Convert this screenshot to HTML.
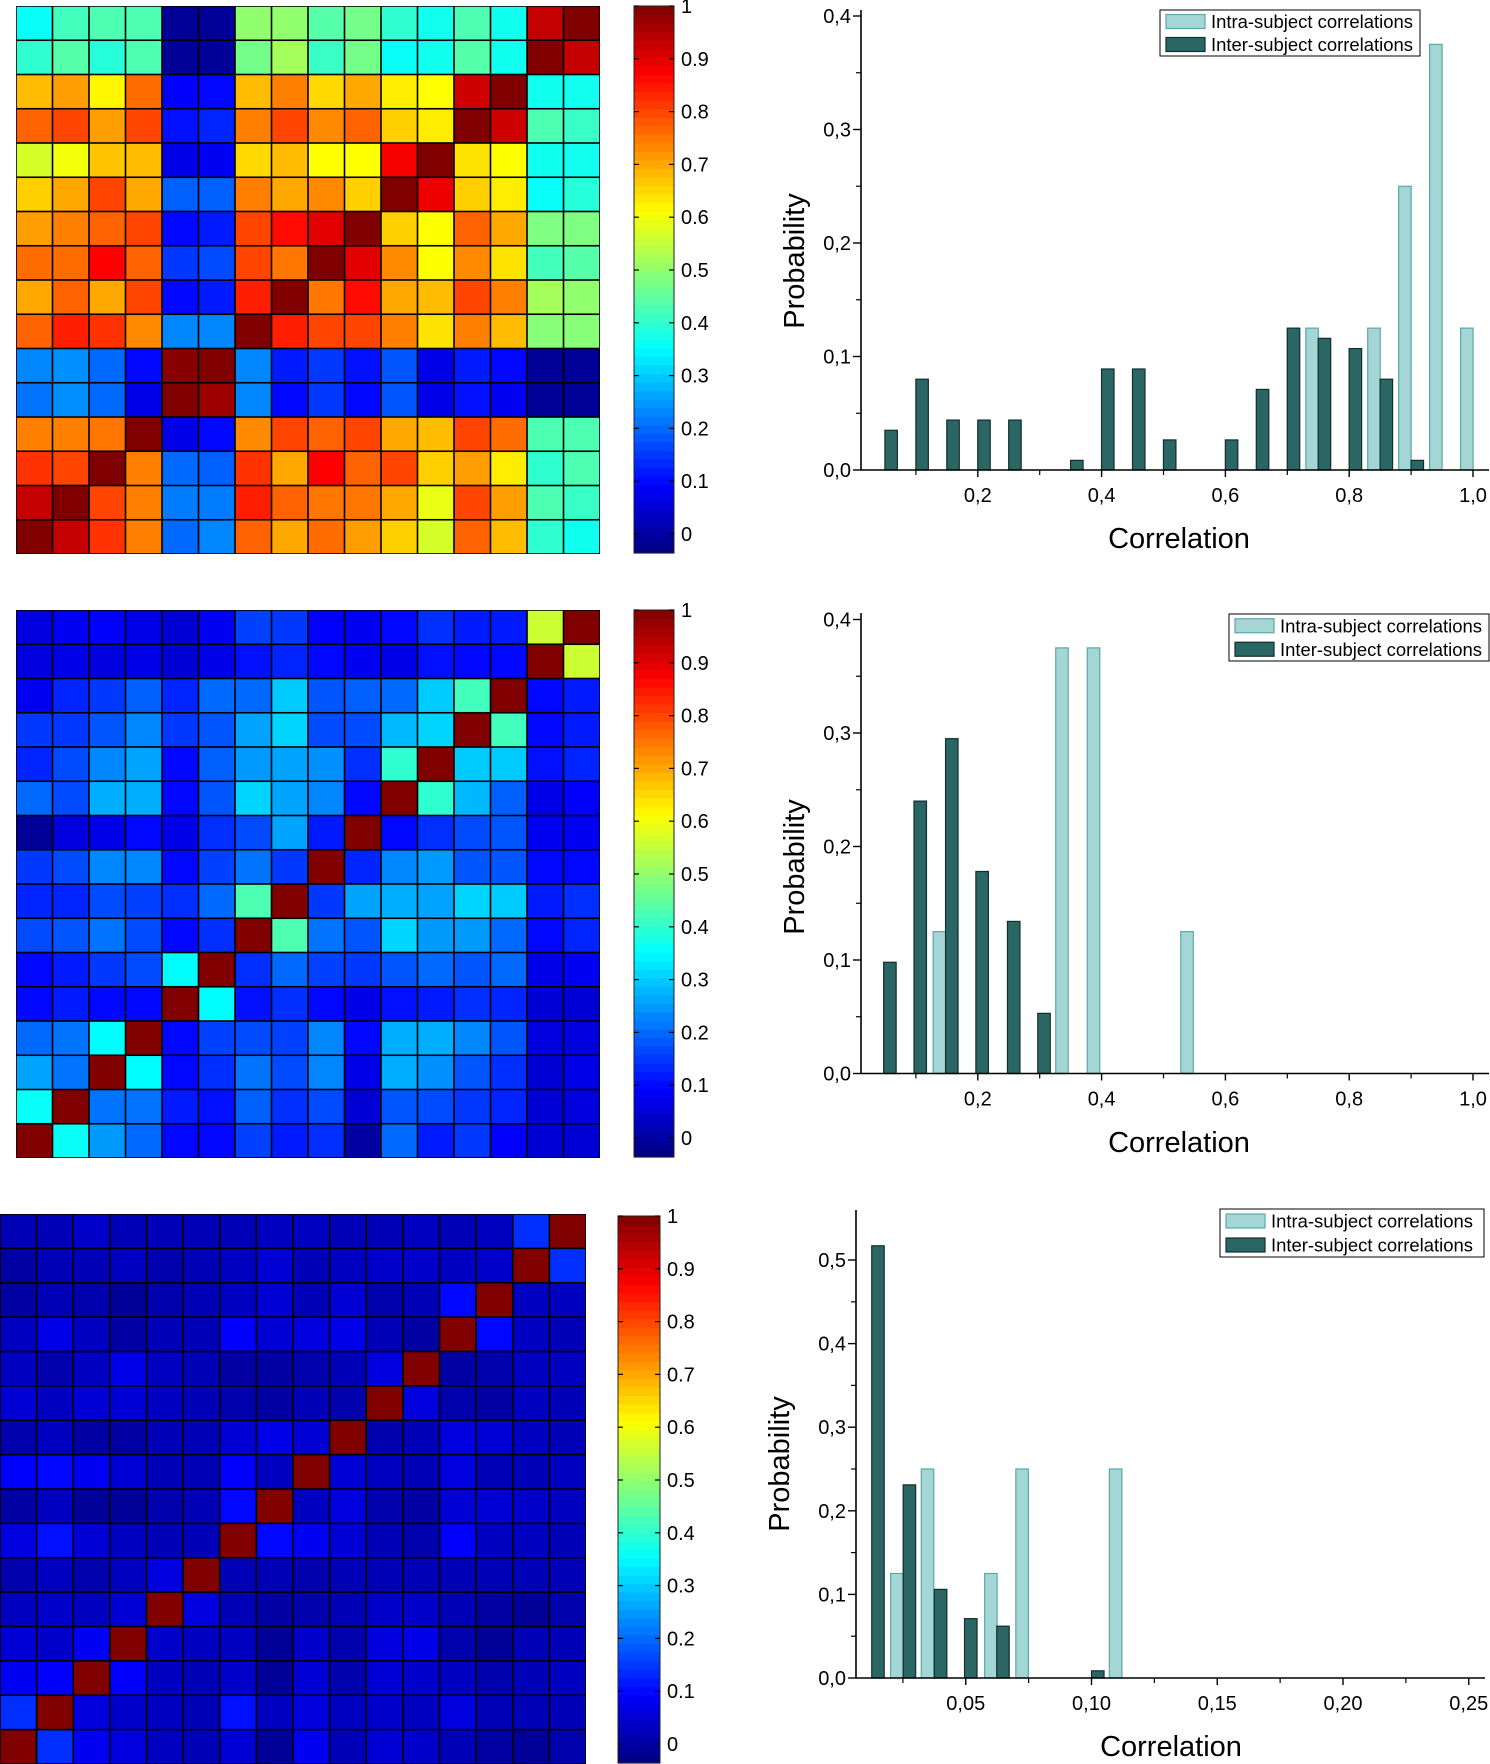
<!DOCTYPE html>
<html><head><meta charset="utf-8"><style>
html,body{margin:0;padding:0;background:#fff;}
svg{display:block;font-family:"Liberation Sans",sans-serif;}
</style></head><body>
<svg id="fig" width="1490" height="1764" viewBox="0 0 1490 1764" xmlns="http://www.w3.org/2000/svg"></svg>
<script>
const heat1 = [
[0.36,0.42,0.43,0.43,-0.01,-0.01,0.5,0.5,0.44,0.47,0.4,0.37,0.43,0.37,0.93,1],
[0.4,0.44,0.39,0.43,-0.01,-0.01,0.47,0.52,0.41,0.47,0.36,0.37,0.44,0.37,1,0.93],
[0.68,0.71,0.62,0.76,0.09,0.1,0.68,0.74,0.65,0.7,0.63,0.61,0.92,1,0.37,0.37],
[0.77,0.8,0.71,0.8,0.11,0.13,0.74,0.8,0.73,0.77,0.66,0.63,1,0.92,0.43,0.41],
[0.57,0.6,0.67,0.68,0.07,0.08,0.65,0.68,0.61,0.61,0.88,1,0.64,0.61,0.37,0.37],
[0.66,0.7,0.8,0.7,0.19,0.19,0.74,0.7,0.73,0.66,1,0.89,0.66,0.63,0.36,0.39],
[0.71,0.74,0.77,0.8,0.1,0.12,0.8,0.86,0.9,1,0.66,0.61,0.77,0.7,0.48,0.48],
[0.76,0.76,0.87,0.77,0.15,0.17,0.8,0.75,1,0.9,0.73,0.61,0.73,0.64,0.42,0.44],
[0.7,0.77,0.7,0.8,0.1,0.12,0.84,1,0.75,0.86,0.7,0.68,0.8,0.74,0.52,0.5],
[0.77,0.84,0.82,0.73,0.23,0.23,1,0.84,0.8,0.8,0.74,0.64,0.74,0.68,0.49,0.49],
[0.23,0.24,0.2,0.1,0.99,1,0.23,0.12,0.15,0.11,0.18,0.07,0.12,0.1,-0.01,-0.01],
[0.21,0.24,0.2,0.07,1,0.97,0.23,0.1,0.15,0.1,0.18,0.07,0.11,0.08,-0.01,-0.01],
[0.74,0.74,0.75,1,0.07,0.1,0.73,0.8,0.77,0.8,0.7,0.68,0.8,0.76,0.43,0.43],
[0.82,0.8,1,0.74,0.2,0.19,0.82,0.7,0.87,0.77,0.8,0.66,0.71,0.63,0.4,0.43],
[0.93,1,0.8,0.74,0.22,0.22,0.84,0.77,0.75,0.75,0.7,0.59,0.8,0.71,0.43,0.41],
[1,0.93,0.82,0.74,0.2,0.23,0.77,0.7,0.76,0.71,0.66,0.57,0.77,0.68,0.4,0.37]];
const heat2 = [
[0.06,0.08,0.09,0.07,0.05,0.08,0.16,0.15,0.09,0.08,0.1,0.14,0.12,0.12,0.56,1],
[0.06,0.07,0.06,0.07,0.05,0.07,0.11,0.13,0.1,0.08,0.07,0.11,0.1,0.1,1,0.56],
[0.08,0.13,0.15,0.19,0.13,0.2,0.2,0.3,0.18,0.19,0.2,0.3,0.42,1,0.1,0.12],
[0.15,0.15,0.18,0.23,0.15,0.18,0.26,0.31,0.17,0.17,0.28,0.31,1,0.42,0.1,0.12],
[0.13,0.17,0.23,0.26,0.1,0.19,0.25,0.26,0.24,0.14,0.4,1,0.3,0.3,0.11,0.13],
[0.2,0.17,0.27,0.27,0.1,0.18,0.31,0.26,0.23,0.1,1,0.4,0.28,0.19,0.07,0.09],
[-0.01,0.06,0.07,0.1,0.07,0.14,0.17,0.26,0.12,1,0.1,0.14,0.17,0.18,0.08,0.08],
[0.15,0.17,0.23,0.23,0.1,0.16,0.21,0.15,1,0.13,0.23,0.25,0.18,0.18,0.1,0.1],
[0.13,0.13,0.17,0.16,0.14,0.2,0.43,1,0.15,0.26,0.27,0.26,0.31,0.3,0.12,0.14],
[0.17,0.18,0.21,0.17,0.1,0.14,1,0.43,0.21,0.18,0.31,0.25,0.25,0.2,0.1,0.13],
[0.1,0.12,0.15,0.17,0.35,1,0.14,0.2,0.16,0.15,0.18,0.2,0.18,0.2,0.07,0.08],
[0.1,0.12,0.1,0.1,1,0.35,0.11,0.14,0.1,0.07,0.11,0.12,0.14,0.13,0.05,0.05],
[0.2,0.21,0.35,1,0.1,0.16,0.17,0.16,0.23,0.1,0.27,0.27,0.23,0.18,0.06,0.06],
[0.26,0.21,1,0.35,0.1,0.14,0.21,0.17,0.23,0.07,0.27,0.24,0.18,0.14,0.05,0.07],
[0.36,1,0.21,0.21,0.12,0.11,0.19,0.14,0.17,0.05,0.18,0.17,0.15,0.13,0.05,0.06],
[1,0.36,0.25,0.2,0.1,0.1,0.16,0.12,0.14,0.0,0.2,0.12,0.15,0.09,0.05,0.05]];
const heat3 = [
[0.02,0.02,0.04,0.02,0.02,0.02,0.02,0.03,0.03,0.02,0.02,0.03,0.02,0.03,0.14,1],
[0.0,0.02,0.02,0.03,0.01,0.02,0.03,0.05,0.02,0.03,0.04,0.04,0.03,0.04,1,0.14],
[0.0,0.02,0.01,-0.01,0.01,0.02,0.03,0.05,0.02,0.05,0.01,0.02,0.1,1,0.03,0.03],
[0.03,0.07,0.03,0.0,0.02,0.02,0.09,0.05,0.06,0.07,0.02,0.0,1,0.1,0.03,0.02],
[0.03,0.01,0.03,0.07,0.03,0.02,0.0,0.0,0.01,0.02,0.06,1,0.0,0.01,0.03,0.03],
[0.05,0.03,0.05,0.05,0.03,0.02,0.01,0.0,0.02,0.01,1,0.06,0.01,0.0,0.03,0.02],
[0.01,0.03,0.0,0.0,0.02,0.02,0.05,0.07,0.05,1,0.01,0.02,0.06,0.05,0.03,0.02],
[0.09,0.1,0.08,0.05,0.02,0.02,0.09,0.03,1,0.05,0.03,0.02,0.06,0.02,0.02,0.03],
[0.0,0.03,-0.01,-0.01,0.01,0.02,0.1,1,0.03,0.06,0.01,0.0,0.05,0.05,0.04,0.03],
[0.06,0.11,0.05,0.03,0.02,0.02,1,0.1,0.08,0.05,0.02,0.01,0.09,0.03,0.03,0.02],
[0.01,0.03,0.01,0.03,0.06,1,0.02,0.02,0.01,0.02,0.02,0.02,0.02,0.02,0.02,0.02],
[0.03,0.04,0.03,0.05,1,0.06,0.02,0.0,0.01,0.02,0.04,0.04,0.02,0.0,-0.01,0.01],
[0.05,0.04,0.08,1,0.04,0.03,0.03,-0.01,0.04,0.01,0.06,0.07,0.01,-0.01,0.02,0.02],
[0.08,0.09,1,0.09,0.03,0.02,0.04,-0.01,0.05,0.01,0.05,0.04,0.03,0.01,0.02,0.03],
[0.14,1,0.06,0.04,0.03,0.02,0.11,0.03,0.06,0.03,0.04,0.03,0.06,0.02,0.02,0.02],
[1,0.14,0.08,0.06,0.03,0.02,0.05,-0.01,0.08,0.02,0.05,0.04,0.02,0.0,-0.01,0.01]];
const cbarTicks = [0,0.1,0.2,0.3,0.4,0.5,0.6,0.7,0.8,0.9,1];
const cbarLabels = ["0","0.1","0.2","0.3","0.4","0.5","0.6","0.7","0.8","0.9","1"];

const h1InterX = [0.06,0.11,0.16,0.21,0.26,0.36,0.41,0.46,0.51,0.61,0.66,0.71,0.76,0.81,0.86,0.91];
const h1InterY = [0.035,0.08,0.044,0.044,0.044,0.0085,0.089,0.089,0.0265,0.0265,0.071,0.125,0.116,0.107,0.08,0.0085];
const h1IntraX = [0.74,0.84,0.89,0.94,0.99];
const h1IntraY = [0.125,0.125,0.25,0.375,0.125];
const h2InterX = [0.058,0.107,0.158,0.207,0.258,0.307];
const h2InterY = [0.098,0.24,0.295,0.178,0.134,0.053];
const h2IntraX = [0.138,0.336,0.387,0.538];
const h2IntraY = [0.125,0.375,0.375,0.125];
const h3InterX = [0.0151,0.0276,0.040,0.052,0.0648,0.1025];
const h3InterY = [0.517,0.231,0.106,0.071,0.062,0.0086];
const h3IntraX = [0.0226,0.0348,0.060,0.0724,0.1096];
const h3IntraY = [0.125,0.25,0.125,0.25,0.25];
const h12XTicks = [0.2,0.4,0.6,0.8,1.0];
const h12XLabels = ["0,2","0,4","0,6","0,8","1,0"];
const h12XMinor = [0.1,0.3,0.5,0.7,0.9];
const h12YTicks = [0,0.1,0.2,0.3,0.4];
const h12YLabels = ["0,0","0,1","0,2","0,3","0,4"];
const h12YMinor = [0.05,0.15,0.25,0.35];
const h3XTicks = [0.05,0.10,0.15,0.20,0.25];
const h3XLabels = ["0,05","0,10","0,15","0,20","0,25"];
const h3XMinor = [0.025,0.075,0.125,0.175,0.225];
const h3YTicks = [0,0.1,0.2,0.3,0.4,0.5];
const h3YLabels = ["0,0","0,1","0,2","0,3","0,4","0,5"];
const h3YMinor = [0.05,0.15,0.25,0.35,0.45];

const NS = "http://www.w3.org/2000/svg";
const svg = document.getElementById('fig');
function mk(tag, attrs, parent){ const e=document.createElementNS(NS,tag); for(const k in attrs) e.setAttribute(k,attrs[k]); (parent||svg).appendChild(e); return e; }
function cl(x){return Math.max(0,Math.min(1,x));}
function jet(t){ const r=cl(1.5-Math.abs(4*t-3)), g=cl(1.5-Math.abs(4*t-2)), b=cl(1.5-Math.abs(4*t-1));
  return `rgb(${Math.round(r*255)},${Math.round(g*255)},${Math.round(b*255)})`; }
const VMIN=-0.036, VMAX=1.0;
function colorOf(v){ return jet((v-VMIN)/(VMAX-VMIN)); }

function heatmap(data, x0, y0, w, h, name){
  const g = mk('g',{});
  
  
  const n=data.length, cw=w/n, ch=h/n;
  mk('rect',{x:x0,y:y0,width:w,height:h,fill:'#000'},g);
  data.forEach((row,i)=>row.forEach((v,j)=>{
    const r = mk('rect',{x:(x0+j*cw+0.8).toFixed(2),y:(y0+i*ch+0.8).toFixed(2),width:(cw-1.6).toFixed(2),height:(ch-1.6).toFixed(2),fill:colorOf(v)},g);
    
    
  }));
}
function colorbar(x0, yTop, yBot, w, name){
  const g = mk('g',{});
  
  
  const y = v => yBot - (v-VMIN)/(VMAX-VMIN)*(yBot-yTop);
  const steps=64;
  for(let k=0;k<steps;k++){
    const v0=VMIN+(VMAX-VMIN)*k/steps, v1=VMIN+(VMAX-VMIN)*(k+1)/steps;
    mk('rect',{x:x0,y:y(v1).toFixed(2),width:w,height:(y(v0)-y(v1)+0.6).toFixed(2),fill:colorOf((v0+v1)/2)},g);
  }
  mk('rect',{x:x0,y:yTop,width:w,height:yBot-yTop,fill:'none',stroke:'#222','stroke-width':1},g);
  cbarTicks.forEach((v,i)=>{
    const yy=y(v);
    mk('line',{x1:x0,x2:x0+5,y1:yy,y2:yy,stroke:'#000','stroke-width':1.2},g);
    mk('line',{x1:x0+w-5,x2:x0+w,y1:yy,y2:yy,stroke:'#000','stroke-width':1.2},g);
    const t=mk('text',{x:x0+w+7,y:yy+7,'font-size':20,fill:'#000'},g);
    t.textContent=cbarLabels[i];
    
    
  });
}
function hist(cfg){
  const g = mk('g',{});
  
  
  const X = v => cfg.xo + v*cfg.xs;
  const Y = v => cfg.yo - v*cfg.ys;
  const bw = cfg.bw;
  cfg.intraX.forEach((xv,i)=>{
    const r=mk('rect',{x:(X(xv)-bw/2).toFixed(2),y:Y(cfg.intraY[i]).toFixed(2),width:bw,height:(cfg.yo-Y(cfg.intraY[i])).toFixed(2),fill:'#a4d6d6',stroke:'#5aa8a8','stroke-width':1.2},g);
    
    
  });
  cfg.interX.forEach((xv,i)=>{
    const r=mk('rect',{x:(X(xv)-bw/2).toFixed(2),y:Y(cfg.interY[i]).toFixed(2),width:bw,height:(cfg.yo-Y(cfg.interY[i])).toFixed(2),fill:'#2a6664',stroke:'#132e2e','stroke-width':1.2},g);
    
    
  });
  // axes
  mk('line',{x1:cfg.axL,x2:cfg.axR,y1:cfg.yo,y2:cfg.yo,stroke:'#000','stroke-width':1.6},g);
  mk('line',{x1:cfg.axL,x2:cfg.axL,y1:cfg.axT,y2:cfg.yo,stroke:'#000','stroke-width':1.6},g);
  cfg.yTicks.forEach((v,i)=>{
    mk('line',{x1:cfg.axL-8,x2:cfg.axL,y1:Y(v),y2:Y(v),stroke:'#000','stroke-width':1.4},g);
    const t=mk('text',{x:cfg.axL-10,y:Y(v)+7,'font-size':20,'text-anchor':'end',fill:'#000'},g);
    t.textContent=cfg.yLabels[i];
    
    
  });
  cfg.yMinor.forEach(v=>mk('line',{x1:cfg.axL-5,x2:cfg.axL,y1:Y(v),y2:Y(v),stroke:'#000','stroke-width':1.2},g));
  cfg.xTicks.forEach((v,i)=>{
    mk('line',{x1:X(v),x2:X(v),y1:cfg.yo,y2:cfg.yo+7,stroke:'#000','stroke-width':1.4},g);
    const t=mk('text',{x:X(v),y:cfg.yo+32,'font-size':20,'text-anchor':'middle',fill:'#000'},g);
    t.textContent=cfg.xLabels[i];
    
    
  });
  cfg.xMinor.forEach(v=>mk('line',{x1:X(v),x2:X(v),y1:cfg.yo,y2:cfg.yo+5,stroke:'#000','stroke-width':1.2},g));
  const xt=mk('text',{x:cfg.xlabX,y:cfg.xlabY,'font-size':29,'text-anchor':'middle',fill:'#000'},g);
  xt.textContent='Correlation';
  
  
  const yt=mk('text',{x:0,y:0,'font-size':29,'text-anchor':'middle',fill:'#000',transform:`translate(${cfg.ylabX},${cfg.ylabY}) rotate(-90)`},g);
  yt.textContent='Probability';
  
  
  // legend
  const L=cfg.leg;
  const lg=mk('g',{},g);
  
  
  mk('rect',{x:L.x,y:L.y,width:L.w,height:L.h,fill:'#fff',stroke:'#000','stroke-width':1},lg);
  const rowH=L.h/2;
  [['Intra-subject correlations','#a4d6d6','#5aa8a8'],['Inter-subject correlations','#2a6664','#132e2e']].forEach((e,i)=>{
    const cy=L.y+rowH*(i+0.5);
    mk('rect',{x:L.x+6,y:cy-7,width:39,height:14,fill:e[1],stroke:e[2],'stroke-width':1.2},lg);
    const t=mk('text',{x:L.x+51,y:cy+6.5,'font-size':18,fill:'#000',textLength:202,lengthAdjust:'spacingAndGlyphs'},lg);
    t.textContent=e[0];
    
    
  });
}

heatmap(heat1,16,6,584,548,'heatmap-1');
heatmap(heat2,16,610,584,548,'heatmap-2');
heatmap(heat3,0,1214,586,550,'heatmap-3');
colorbar(634,6,553,40,'colorbar-1');
colorbar(634,610,1157,40,'colorbar-2');
colorbar(618,1216,1763,42,'colorbar-3');

hist({name:'histogram-1',xo:854,xs:619,yo:470,ys:1135,bw:12.5,axL:861,axR:1489,axT:10,
  interX:h1InterX,interY:h1InterY,intraX:h1IntraX,intraY:h1IntraY,
  xTicks:h12XTicks,xLabels:h12XLabels,xMinor:h12XMinor,yTicks:h12YTicks,yLabels:h12YLabels,yMinor:h12YMinor,
  xlabX:1179,xlabY:548,ylabX:804,ylabY:261,leg:{x:1160,y:10,w:260,h:46}});
hist({name:'histogram-2',xo:854,xs:619,yo:1073.5,ys:1135,bw:12.5,axL:861,axR:1489,axT:613,
  interX:h2InterX,interY:h2InterY,intraX:h2IntraX,intraY:h2IntraY,
  xTicks:h12XTicks,xLabels:h12XLabels,xMinor:h12XMinor,yTicks:h12YTicks,yLabels:h12YLabels,yMinor:h12YMinor,
  xlabX:1179,xlabY:1152,ylabX:804,ylabY:867,leg:{x:1229,y:614,w:260,h:47}});
hist({name:'histogram-3',xo:840,xs:2515,yo:1678,ys:836,bw:12.5,axL:856,axR:1485,axT:1210,
  interX:h3InterX,interY:h3InterY,intraX:h3IntraX,intraY:h3IntraY,
  xTicks:h3XTicks,xLabels:h3XLabels,xMinor:h3XMinor,yTicks:h3YTicks,yLabels:h3YLabels,yMinor:h3YMinor,
  xlabX:1171,xlabY:1756,ylabX:789,ylabY:1464,leg:{x:1220,y:1209,w:264,h:48}});
</script>
</body></html>
